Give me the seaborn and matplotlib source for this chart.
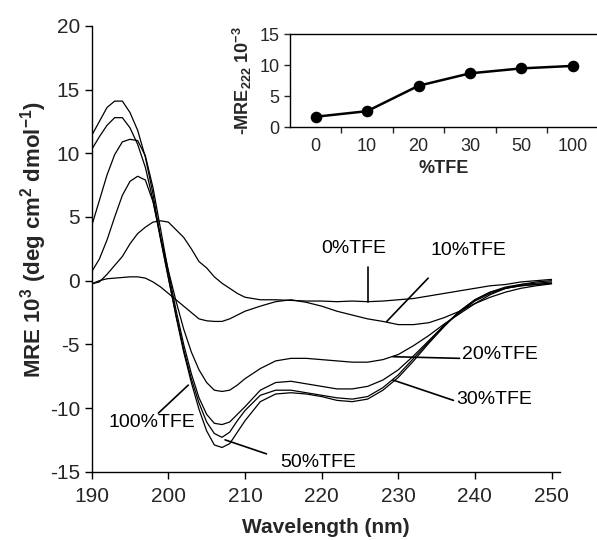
import numpy as np
import pandas as pd
import matplotlib
matplotlib.use("Agg")
import matplotlib.pyplot as plt
import seaborn as sns

# ---------------- data ----------------
wavelength = [190, 191, 192, 193, 194, 195, 196, 197, 198, 199, 200, 201, 202, 203, 204,
              205, 206, 207, 208, 209, 210, 212, 214, 216, 218, 220, 222, 224, 226, 228,
              230, 232, 234, 236, 238, 240, 242, 244, 246, 248, 250]

mre_0 = [-0.25, -0.1, 0.5, 1.2, 1.9, 2.9, 3.7, 4.2, 4.6, 4.7, 4.6, 4.0, 3.4, 2.5, 1.5,
         1.0, 0.3, -0.2, -0.6, -1.0, -1.3, -1.5, -1.5, -1.55, -1.6, -1.6, -1.65, -1.6, -1.65, -1.6,
         -1.5, -1.4, -1.2, -1.0, -0.8, -0.6, -0.4, -0.3, -0.1, 0.0, 0.1]
mre_10 = [-0.25, 0.0, 0.15, 0.2, 0.25, 0.3, 0.3, 0.2, -0.1, -0.5, -1.0, -1.5, -2.0, -2.5, -3.0,
          -3.15, -3.2, -3.2, -3.0, -2.7, -2.4, -2.0, -1.65, -1.5, -1.7, -2.0, -2.4, -2.7, -3.0, -3.2,
          -3.45, -3.45, -3.3, -2.9, -2.4, -1.8, -1.3, -0.9, -0.6, -0.4, -0.25]
mre_20 = [0.7, 1.7, 3.2, 5.0, 6.7, 7.8, 8.2, 7.9, 6.2, 3.4, 0.8, -1.6, -3.8, -5.6, -7.0,
          -8.0, -8.6, -8.7, -8.6, -8.2, -7.7, -6.9, -6.3, -6.1, -6.1, -6.2, -6.3, -6.4, -6.4, -6.2,
          -5.8, -5.1, -4.3, -3.4, -2.6, -1.8, -1.1, -0.6, -0.3, -0.1, 0.0]
mre_30 = [4.3, 6.3, 8.3, 9.9, 10.9, 11.1, 11.0, 9.8, 7.3, 4.0, 0.7, -2.3, -5.0, -7.3, -9.2,
          -10.5, -11.2, -11.3, -11.1, -10.5, -9.9, -8.6, -8.0, -7.9, -8.1, -8.3, -8.5, -8.5, -8.3, -7.8,
          -7.0, -5.9, -4.7, -3.5, -2.5, -1.6, -1.0, -0.6, -0.4, -0.3, -0.2]
mre_50 = [10.3, 11.3, 12.2, 12.8, 12.8, 12.0, 10.7, 8.9, 6.3, 3.2, 0.2, -2.7, -5.4, -7.7, -9.6,
          -11.1, -12.0, -12.3, -11.9, -11.0, -10.2, -9.0, -8.6, -8.6, -8.8, -9.0, -9.2, -9.3, -9.1, -8.4,
          -7.4, -6.1, -4.8, -3.5, -2.4, -1.5, -0.9, -0.5, -0.3, -0.2, -0.1]
mre_100 = [11.4, 12.5, 13.6, 14.1, 14.1, 13.2, 11.8, 9.7, 6.8, 3.3, 0.3, -2.8, -5.6, -8.0, -10.1,
           -11.8, -12.9, -13.1, -12.8, -11.9, -11.0, -9.5, -8.9, -8.8, -8.9, -9.1, -9.4, -9.5, -9.3, -8.6,
           -7.6, -6.3, -4.9, -3.6, -2.4, -1.5, -0.9, -0.6, -0.4, -0.3, -0.2]

series_names = ["0%TFE", "10%TFE", "20%TFE", "30%TFE", "50%TFE", "100%TFE"]
series_values = [mre_0, mre_10, mre_20, mre_30, mre_50, mre_100]

# label text position and pointer (start -> curve point), in data units
label_text_xy = [(224.2, 2.55), (239.1, 2.4), (243.2, -5.8), (242.5, -9.3), (219.5, -14.3), (197.9, -11.1)]
label_arrow_xy = [(226.1, -1.65), (228.5, -3.2), (229.3, -5.97), (229.3, -7.8), (207.4, -12.5), (202.6, -8.2)]
label_line_start = [(226.1, 1.1), (233.9, 0.2), (238.0, -6.1), (237.2, -9.4), (212.8, -13.6), (198.7, -10.4)]

# inset data
tfe_labels = ["0", "10", "20", "30", "50", "100"]
mre222 = [1.7, 2.6, 6.7, 8.7, 9.5, 9.9]

# ---------------- style ----------------
sns.set_theme(style="ticks")
plt.rcParams["font.family"] = ["Liberation Sans", "DejaVu Sans"]
plt.rcParams["axes.unicode_minus"] = False
plt.rcParams["mathtext.fontset"] = "custom"
plt.rcParams["mathtext.rm"] = "Liberation Sans"
plt.rcParams["mathtext.bf"] = "Liberation Sans:bold"
plt.rcParams["mathtext.it"] = "Liberation Sans:italic"

fig = plt.figure(figsize=(5.97, 5.40), dpi=100)
ax = fig.add_axes([0.1536, 0.1265, 0.938 - 0.1536, 0.9519 - 0.1265])

rows = []
for name, vals in zip(series_names, series_values):
    for w, v in zip(wavelength, vals):
        rows.append({"wavelength": w, "mre": v, "series": name})
df = pd.DataFrame(rows)

sns.lineplot(data=df, x="wavelength", y="mre", units="series", estimator=None,
             color="black", linewidth=0.9, ax=ax, legend=False)

ax.set_xlim(190, 251.1)
ax.set_ylim(-15, 20)
ax.set_xticks(np.arange(190, 251, 10))
ax.set_yticks(np.arange(-15, 21, 5))
ax.tick_params(axis="both", labelsize=15, length=5, width=1, color="black", direction="out")
ax.tick_params(axis="x", pad=6)
for s in ["top", "right"]:
    ax.spines[s].set_visible(False)
for s in ["left", "bottom"]:
    ax.spines[s].set_linewidth(1.0)
    ax.spines[s].set_color("black")

ax.set_xlabel("Wavelength (nm)", fontsize=15, fontweight="bold")
ax.xaxis.set_label_coords(0.5, -0.105)
ax.set_ylabel(r"MRE 10$^{\mathbf{3}}$ (deg cm$^{\mathbf{2}}$ dmol$^{\mathbf{-1}}$)",
              fontsize=16, fontweight="bold", va="center")
ax.yaxis.set_label_coords(-0.125, 0.52)

for name, txy, axy, sxy in zip(series_names, label_text_xy, label_arrow_xy, label_line_start):
    ax.plot([sxy[0], axy[0]], [sxy[1], axy[1]], color="black", linewidth=1.2)
    ax.text(txy[0], txy[1], name, fontsize=14, ha="center", va="center", color="black")

# ---------------- inset ----------------
ins = fig.add_axes([290 / 597, 0.7643, 1.0 - 290 / 597, 0.1722])
sns.pointplot(x=tfe_labels, y=mre222, color="black", markers="o", linestyles="-",
              markersize=7, linewidth=1.8, ax=ins)
ins.set_xlim(-0.5, 5.47)
ins.set_ylim(0, 15)
ins.set_yticks([0, 5, 10, 15])
ins.set_xticks(np.arange(len(tfe_labels)))
ins.set_xticklabels(tfe_labels)
ins.set_xticks(np.arange(len(tfe_labels) - 1) + 0.5, minor=True)
ins.tick_params(axis="x", which="major", length=0, labelsize=13, pad=8)
ins.tick_params(axis="x", which="minor", length=4, width=1, direction="out")
ins.tick_params(axis="y", labelsize=13, length=4, width=1, direction="out")
ins.spines["right"].set_visible(False)
for s in ["top", "left", "bottom"]:
    ins.spines[s].set_linewidth(1.0)
    ins.spines[s].set_color("black")
ins.set_xlabel("%TFE", fontsize=13, fontweight="bold", labelpad=3)
ins.set_ylabel(r"-MRE$_{\mathbf{222}}$ 10$^{\mathbf{-3}}$", fontsize=13, fontweight="bold", labelpad=4)
ins.patch.set_alpha(0)

fig.savefig("out.png", dpi=100)
